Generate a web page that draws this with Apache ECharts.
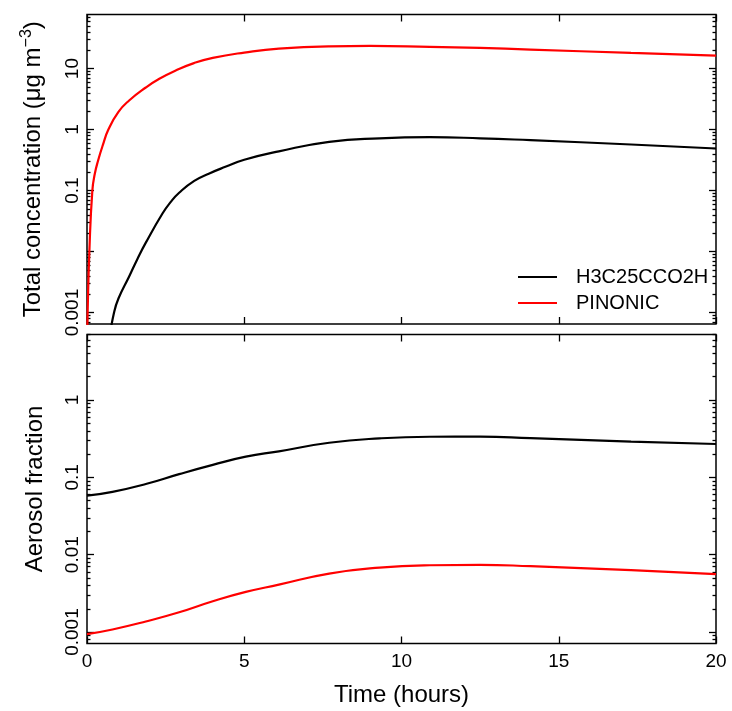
<!DOCTYPE html>
<html>
<head>
<meta charset="utf-8">
<script src="https://cdn.jsdelivr.net/npm/echarts@6/dist/echarts.min.js"></script>
<style>html,body{margin:0;padding:0;background:#fff}#c{width:732px;height:711px}</style>
</head>
<body>
<div id="c"></div>
<script>
// ---- data ----
const seriesNames = ['H3C25CCO2H', 'PINONIC'];

// Top panel: total concentration (ug m-3)
const tTopBlack = [0.7, 0.86, 1.0, 1.34, 1.6, 1.87, 2.4, 2.65, 2.93, 3.41, 3.89, 4.4, 5.0, 6.1, 7.7, 9.3, 10.9, 12.5, 14.1, 17.3, 20];
const topBlack  = [0.00035, 0.001, 0.0017, 0.0039, 0.0075, 0.014, 0.042, 0.064, 0.092, 0.144, 0.191, 0.245, 0.32, 0.44, 0.63, 0.72, 0.75, 0.72, 0.67, 0.57, 0.49];
const tTopRed   = [0, 0.02, 0.075, 0.17, 0.25, 0.36, 0.5, 0.68, 1.0, 1.34, 1.87, 2.3, 2.82, 3.4, 4.0, 5.0, 6.1, 7.7, 9.0, 10.9, 12.5, 14.1, 17.3, 20];
const topRed    = [0.0003, 0.001, 0.01, 0.1, 0.19, 0.32, 0.55, 1.0, 1.95, 3.0, 4.9, 6.8, 9.3, 12.3, 15.0, 18.3, 21.3, 23.2, 23.5, 22.7, 21.8, 20.5, 18.1, 16.3];

// Bottom panel: aerosol fraction
const tBottom     = [0, 0.81, 1.87, 2.93, 4.0, 5.05, 6.1, 7.7, 9.3, 10.9, 12.5, 14.1, 17.3, 20];
const bottomBlack = [0.058, 0.065, 0.082, 0.11, 0.145, 0.185, 0.217, 0.28, 0.319, 0.335, 0.336, 0.322, 0.29, 0.27];
const bottomRed   = [0.00094, 0.00108, 0.00137, 0.0018, 0.0025, 0.0033, 0.0041, 0.0057, 0.0068, 0.0073, 0.0074, 0.0071, 0.0063, 0.0056];

// ticks
const xTicks = [0, 5, 10, 15, 20];
const topMajor = [0.001, 0.01, 0.1, 1, 10];
const topLabels = [0.001, 0.1, 1, 10];
const topMinor = [0.0007, 0.0008, 0.0009,
  0.002, 0.003, 0.004, 0.005, 0.006, 0.007, 0.008, 0.009,
  0.02, 0.03, 0.04, 0.05, 0.06, 0.07, 0.08, 0.09,
  0.2, 0.3, 0.4, 0.5, 0.6, 0.7, 0.8, 0.9,
  2, 3, 4, 5, 6, 7, 8, 9,
  20, 30, 40, 50, 60, 70];
const botMajor = [0.001, 0.01, 0.1, 1];
const botLabels = [0.001, 0.01, 0.1, 1];
const botMinor = [0.0008, 0.0009,
  0.002, 0.003, 0.004, 0.005, 0.006, 0.007, 0.008, 0.009,
  0.02, 0.03, 0.04, 0.05, 0.06, 0.07, 0.08, 0.09,
  0.2, 0.3, 0.4, 0.5, 0.6, 0.7, 0.8, 0.9,
  2, 3, 4, 5, 6, 7];

const topRange = [0.000649, 77.1];
const botRange = [0.000711, 7.03];

// ---- build ----
const FONT = '"Liberation Sans", Arial, Helvetica, sans-serif';
const pair = (ts, vs) => ts.map((t, i) => [t, vs[i]]);

function xAx(grid, pos, labels, name) {
  return {
    type: 'value', gridIndex: grid, position: pos, min: 0, max: 20, interval: 5,
    axisLine: {show: false}, splitLine: {show: false},
    axisTick: {show: true, inside: true, length: 7, customValues: xTicks, lineStyle: {color: '#000', width: 1.3}},
    axisLabel: {show: labels, customValues: xTicks, color: '#000', fontSize: 19, fontFamily: FONT, margin: 9},
    name: name || '', nameLocation: 'middle', nameGap: 40,
    nameTextStyle: {color: '#000', fontSize: 24, fontFamily: FONT}
  };
}
function yAx(grid, pos, range, ticks, len, labels, name, gap) {
  const a = {
    type: 'log', gridIndex: grid, position: pos, min: range[0], max: range[1],
    axisLine: {show: false}, splitLine: {show: false}, minorTick: {show: false},
    axisTick: {show: true, inside: true, length: len, customValues: ticks, lineStyle: {color: '#000', width: 1.3}},
    axisLabel: labels ? {show: true, customValues: labels, rotate: 90, color: '#000', fontSize: 19, fontFamily: FONT, margin: 5,
      formatter: v => String(v)} : {show: false}
  };
  if (name) {
    a.name = name; a.nameLocation = 'middle'; a.nameGap = gap; a.nameRotate = 90;
    a.nameTextStyle = {color: '#000', fontSize: 24, fontFamily: FONT,
      rich: {sup: {fontSize: 16, fontFamily: FONT, color: '#000', padding: [0, 0, 12, 0]}}};
  }
  return a;
}

function lineSeries(name, xi, yi, data, color) {
  return {name: name, type: 'line', xAxisIndex: xi, yAxisIndex: yi, data: data,
    showSymbol: false, smooth: 0.5, clip: true, color: color, lineStyle: {color: color, width: 2.2}};
}

const option = {
  animation: false,
  backgroundColor: '#fff',
  textStyle: {fontFamily: FONT},
  grid: [
    {left: 87, right: 16, top: 14.5, height: 309.5, show: true, borderColor: '#000', borderWidth: 1.5, backgroundColor: 'transparent'},
    {left: 87, right: 16, top: 334.5, height: 309, show: true, borderColor: '#000', borderWidth: 1.5, backgroundColor: 'transparent'}
  ],
  xAxis: [
    xAx(0, 'bottom', false), xAx(0, 'top', false),
    xAx(1, 'bottom', true, 'Time (hours)'), xAx(1, 'top', false)
  ],
  yAxis: [
    yAx(0, 'left', topRange, topMajor, 7, topLabels, 'Total concentration (μg m{sup|−3})', 40),
    yAx(0, 'left', topRange, topMinor, 3.5, null),
    yAx(0, 'right', topRange, topMajor, 7, null),
    yAx(0, 'right', topRange, topMinor, 3.5, null),
    yAx(1, 'left', botRange, botMajor, 7, botLabels, 'Aerosol fraction', 40),
    yAx(1, 'left', botRange, botMinor, 3.5, null),
    yAx(1, 'right', botRange, botMajor, 7, null),
    yAx(1, 'right', botRange, botMinor, 3.5, null)
  ],
  legend: {
    show: true, orient: 'vertical', left: 513, top: 262, itemWidth: 39, itemHeight: 2.2, itemGap: 6,
    icon: 'rect', selectedMode: false, data: seriesNames,
    textStyle: {color: '#000', fontSize: 20, fontFamily: FONT, padding: [0, 0, 0, 14]}
  },
  series: [
    lineSeries(seriesNames[0], 0, 0, pair(tTopBlack, topBlack), '#000000'),
    lineSeries(seriesNames[1], 0, 0, pair(tTopRed, topRed), '#ff0000'),
    lineSeries(seriesNames[0], 2, 4, pair(tBottom, bottomBlack), '#000000'),
    lineSeries(seriesNames[1], 2, 4, pair(tBottom, bottomRed), '#ff0000')
  ]
};
const chart = echarts.init(document.getElementById('c'), null, {renderer: 'canvas'});
chart.setOption(option);
</script>
</body>
</html>
